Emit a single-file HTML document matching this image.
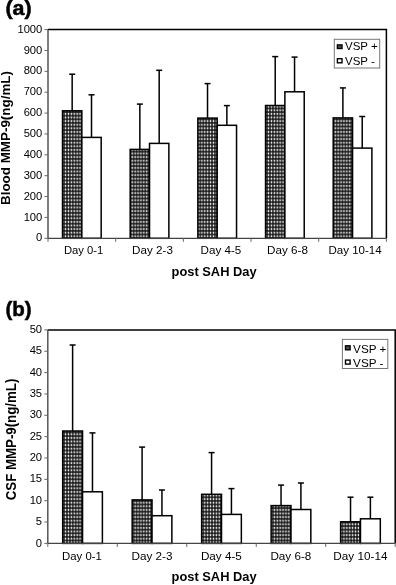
<!DOCTYPE html>
<html><head><meta charset="utf-8"><style>
html,body{margin:0;padding:0;background:#fff;overflow:hidden;}
svg{display:block;will-change:transform;}
text{font-family:"Liberation Sans", sans-serif;fill:#000;}
</style></head><body>
<svg width="396" height="585" viewBox="0 0 396 585">
<defs>
<pattern id="hatch" patternUnits="userSpaceOnUse" x="0.3" y="0.5" width="2.9" height="3.6">
<rect width="2.9" height="3.6" fill="#1c1c1c"/>
<rect x="0.7" y="0.75" width="1.5" height="2.1" rx="0.5" fill="#ececec"/>
</pattern>
</defs>
<rect width="396" height="585" fill="#fff"/>
<line x1="72.17" y1="110.80" x2="72.17" y2="74.20" stroke="#000" stroke-width="1.5"/>
<line x1="69.17" y1="74.20" x2="75.17" y2="74.20" stroke="#000" stroke-width="1.5"/>
<line x1="91.51" y1="137.40" x2="91.51" y2="94.80" stroke="#000" stroke-width="1.5"/>
<line x1="88.51" y1="94.80" x2="94.51" y2="94.80" stroke="#000" stroke-width="1.5"/>
<rect x="62.50" y="110.80" width="19.34" height="127.50" fill="url(#hatch)" stroke="#000" stroke-width="1.5"/>
<rect x="81.84" y="137.40" width="19.34" height="100.90" fill="#fff" stroke="#000" stroke-width="1.5"/>
<line x1="139.85" y1="149.40" x2="139.85" y2="104.10" stroke="#000" stroke-width="1.5"/>
<line x1="136.85" y1="104.10" x2="142.85" y2="104.10" stroke="#000" stroke-width="1.5"/>
<line x1="159.19" y1="143.40" x2="159.19" y2="70.30" stroke="#000" stroke-width="1.5"/>
<line x1="156.19" y1="70.30" x2="162.19" y2="70.30" stroke="#000" stroke-width="1.5"/>
<rect x="130.18" y="149.40" width="19.34" height="88.90" fill="url(#hatch)" stroke="#000" stroke-width="1.5"/>
<rect x="149.52" y="143.40" width="19.34" height="94.90" fill="#fff" stroke="#000" stroke-width="1.5"/>
<line x1="207.53" y1="118.10" x2="207.53" y2="83.60" stroke="#000" stroke-width="1.5"/>
<line x1="204.53" y1="83.60" x2="210.53" y2="83.60" stroke="#000" stroke-width="1.5"/>
<line x1="226.87" y1="125.30" x2="226.87" y2="105.60" stroke="#000" stroke-width="1.5"/>
<line x1="223.87" y1="105.60" x2="229.87" y2="105.60" stroke="#000" stroke-width="1.5"/>
<rect x="197.86" y="118.10" width="19.34" height="120.20" fill="url(#hatch)" stroke="#000" stroke-width="1.5"/>
<rect x="217.20" y="125.30" width="19.34" height="113.00" fill="#fff" stroke="#000" stroke-width="1.5"/>
<line x1="275.21" y1="105.50" x2="275.21" y2="56.60" stroke="#000" stroke-width="1.5"/>
<line x1="272.21" y1="56.60" x2="278.21" y2="56.60" stroke="#000" stroke-width="1.5"/>
<line x1="294.55" y1="91.80" x2="294.55" y2="57.10" stroke="#000" stroke-width="1.5"/>
<line x1="291.55" y1="57.10" x2="297.55" y2="57.10" stroke="#000" stroke-width="1.5"/>
<rect x="265.54" y="105.50" width="19.34" height="132.80" fill="url(#hatch)" stroke="#000" stroke-width="1.5"/>
<rect x="284.88" y="91.80" width="19.34" height="146.50" fill="#fff" stroke="#000" stroke-width="1.5"/>
<line x1="342.89" y1="117.90" x2="342.89" y2="87.90" stroke="#000" stroke-width="1.5"/>
<line x1="339.89" y1="87.90" x2="345.89" y2="87.90" stroke="#000" stroke-width="1.5"/>
<line x1="362.23" y1="148.10" x2="362.23" y2="116.50" stroke="#000" stroke-width="1.5"/>
<line x1="359.23" y1="116.50" x2="365.23" y2="116.50" stroke="#000" stroke-width="1.5"/>
<rect x="333.22" y="117.90" width="19.34" height="120.40" fill="url(#hatch)" stroke="#000" stroke-width="1.5"/>
<rect x="352.56" y="148.10" width="19.34" height="90.20" fill="#fff" stroke="#000" stroke-width="1.5"/>
<polyline points="48.00,29.60 386.40,29.60 386.40,238.30" fill="none" stroke="#000" stroke-width="1.5"/>
<line x1="48.00" y1="29.60" x2="48.00" y2="238.30" stroke="#555" stroke-width="1.5"/>
<line x1="48.00" y1="238.30" x2="386.40" y2="238.30" stroke="#444" stroke-width="1.2"/>
<line x1="44.50" y1="238.30" x2="48.00" y2="238.30" stroke="#666" stroke-width="1"/>
<text x="42.30" y="241.40" text-anchor="end" font-size="11.2">0</text>
<line x1="44.50" y1="217.43" x2="48.00" y2="217.43" stroke="#666" stroke-width="1"/>
<text x="42.30" y="220.53" text-anchor="end" font-size="11.2">100</text>
<line x1="44.50" y1="196.56" x2="48.00" y2="196.56" stroke="#666" stroke-width="1"/>
<text x="42.30" y="199.66" text-anchor="end" font-size="11.2">200</text>
<line x1="44.50" y1="175.69" x2="48.00" y2="175.69" stroke="#666" stroke-width="1"/>
<text x="42.30" y="178.79" text-anchor="end" font-size="11.2">300</text>
<line x1="44.50" y1="154.82" x2="48.00" y2="154.82" stroke="#666" stroke-width="1"/>
<text x="42.30" y="157.92" text-anchor="end" font-size="11.2">400</text>
<line x1="44.50" y1="133.95" x2="48.00" y2="133.95" stroke="#666" stroke-width="1"/>
<text x="42.30" y="137.05" text-anchor="end" font-size="11.2">500</text>
<line x1="44.50" y1="113.08" x2="48.00" y2="113.08" stroke="#666" stroke-width="1"/>
<text x="42.30" y="116.18" text-anchor="end" font-size="11.2">600</text>
<line x1="44.50" y1="92.21" x2="48.00" y2="92.21" stroke="#666" stroke-width="1"/>
<text x="42.30" y="95.31" text-anchor="end" font-size="11.2">700</text>
<line x1="44.50" y1="71.34" x2="48.00" y2="71.34" stroke="#666" stroke-width="1"/>
<text x="42.30" y="74.44" text-anchor="end" font-size="11.2">800</text>
<line x1="44.50" y1="50.47" x2="48.00" y2="50.47" stroke="#666" stroke-width="1"/>
<text x="42.30" y="53.57" text-anchor="end" font-size="11.2">900</text>
<line x1="44.50" y1="29.60" x2="48.00" y2="29.60" stroke="#666" stroke-width="1"/>
<text x="42.30" y="32.70" text-anchor="end" font-size="11.2">1000</text>
<line x1="48.00" y1="238.30" x2="48.00" y2="241.80" stroke="#666" stroke-width="1"/>
<line x1="115.68" y1="238.30" x2="115.68" y2="241.80" stroke="#666" stroke-width="1"/>
<line x1="183.36" y1="238.30" x2="183.36" y2="241.80" stroke="#666" stroke-width="1"/>
<line x1="251.04" y1="238.30" x2="251.04" y2="241.80" stroke="#666" stroke-width="1"/>
<line x1="318.72" y1="238.30" x2="318.72" y2="241.80" stroke="#666" stroke-width="1"/>
<line x1="386.40" y1="238.30" x2="386.40" y2="241.80" stroke="#666" stroke-width="1"/>
<text x="63.90" y="254.20" font-size="11" textLength="39.40" lengthAdjust="spacingAndGlyphs">Day 0-1</text>
<text x="132.10" y="254.20" font-size="11" textLength="40.80" lengthAdjust="spacingAndGlyphs">Day 2-3</text>
<text x="200.50" y="254.20" font-size="11" textLength="40.80" lengthAdjust="spacingAndGlyphs">Day 4-5</text>
<text x="267.10" y="254.20" font-size="11" textLength="40.80" lengthAdjust="spacingAndGlyphs">Day 6-8</text>
<text x="328.50" y="254.20" font-size="11" textLength="53.20" lengthAdjust="spacingAndGlyphs">Day 10-14</text>
<text x="171.60" y="275.80" font-size="13" font-weight="bold" textLength="85" lengthAdjust="spacingAndGlyphs">post SAH Day</text>
<text transform="translate(10.00,205.00) rotate(-90)" x="0" y="0" font-size="12.3" font-weight="bold" textLength="134" lengthAdjust="spacingAndGlyphs">Blood MMP-9(ng/mL)</text>
<text x="5.40" y="14.90" font-size="20" font-weight="bold" stroke="#000" stroke-width="0.5" textLength="26.2" lengthAdjust="spacingAndGlyphs">(a)</text>
<rect x="334.30" y="39.30" width="45.40" height="28.70" fill="#fff" stroke="#777" stroke-width="1"/>
<rect x="337.40" y="44.90" width="4.6" height="3.6" fill="#505050" stroke="#000" stroke-width="1.4"/>
<rect x="337.40" y="58.70" width="4.6" height="4.1" fill="#fff" stroke="#000" stroke-width="1.4"/>
<text x="345.00" y="50.40" font-size="11.5">VSP +</text>
<text x="345.00" y="64.70" font-size="11.5">VSP -</text>
<line x1="72.61" y1="431.00" x2="72.61" y2="345.00" stroke="#000" stroke-width="1.5"/>
<line x1="69.61" y1="345.00" x2="75.61" y2="345.00" stroke="#000" stroke-width="1.5"/>
<line x1="92.47" y1="491.80" x2="92.47" y2="432.90" stroke="#000" stroke-width="1.5"/>
<line x1="89.47" y1="432.90" x2="95.47" y2="432.90" stroke="#000" stroke-width="1.5"/>
<rect x="62.69" y="431.00" width="19.85" height="112.40" fill="url(#hatch)" stroke="#000" stroke-width="1.5"/>
<rect x="82.54" y="491.80" width="19.85" height="51.60" fill="#fff" stroke="#000" stroke-width="1.5"/>
<line x1="142.09" y1="499.90" x2="142.09" y2="447.10" stroke="#000" stroke-width="1.5"/>
<line x1="139.09" y1="447.10" x2="145.09" y2="447.10" stroke="#000" stroke-width="1.5"/>
<line x1="161.95" y1="515.70" x2="161.95" y2="490.00" stroke="#000" stroke-width="1.5"/>
<line x1="158.95" y1="490.00" x2="164.95" y2="490.00" stroke="#000" stroke-width="1.5"/>
<rect x="132.17" y="499.90" width="19.85" height="43.50" fill="url(#hatch)" stroke="#000" stroke-width="1.5"/>
<rect x="152.02" y="515.70" width="19.85" height="27.70" fill="#fff" stroke="#000" stroke-width="1.5"/>
<line x1="211.57" y1="494.30" x2="211.57" y2="452.60" stroke="#000" stroke-width="1.5"/>
<line x1="208.57" y1="452.60" x2="214.57" y2="452.60" stroke="#000" stroke-width="1.5"/>
<line x1="231.43" y1="514.40" x2="231.43" y2="488.60" stroke="#000" stroke-width="1.5"/>
<line x1="228.43" y1="488.60" x2="234.43" y2="488.60" stroke="#000" stroke-width="1.5"/>
<rect x="201.65" y="494.30" width="19.85" height="49.10" fill="url(#hatch)" stroke="#000" stroke-width="1.5"/>
<rect x="221.50" y="514.40" width="19.85" height="29.00" fill="#fff" stroke="#000" stroke-width="1.5"/>
<line x1="281.05" y1="505.60" x2="281.05" y2="485.10" stroke="#000" stroke-width="1.5"/>
<line x1="278.05" y1="485.10" x2="284.05" y2="485.10" stroke="#000" stroke-width="1.5"/>
<line x1="300.91" y1="509.50" x2="300.91" y2="483.00" stroke="#000" stroke-width="1.5"/>
<line x1="297.91" y1="483.00" x2="303.91" y2="483.00" stroke="#000" stroke-width="1.5"/>
<rect x="271.13" y="505.60" width="19.85" height="37.80" fill="url(#hatch)" stroke="#000" stroke-width="1.5"/>
<rect x="290.98" y="509.50" width="19.85" height="33.90" fill="#fff" stroke="#000" stroke-width="1.5"/>
<line x1="350.53" y1="521.80" x2="350.53" y2="497.20" stroke="#000" stroke-width="1.5"/>
<line x1="347.53" y1="497.20" x2="353.53" y2="497.20" stroke="#000" stroke-width="1.5"/>
<line x1="370.39" y1="518.80" x2="370.39" y2="497.20" stroke="#000" stroke-width="1.5"/>
<line x1="367.39" y1="497.20" x2="373.39" y2="497.20" stroke="#000" stroke-width="1.5"/>
<rect x="340.61" y="521.80" width="19.85" height="21.60" fill="url(#hatch)" stroke="#000" stroke-width="1.5"/>
<rect x="360.46" y="518.80" width="19.85" height="24.60" fill="#fff" stroke="#000" stroke-width="1.5"/>
<polyline points="47.80,329.90 395.20,329.90 395.20,543.40" fill="none" stroke="#000" stroke-width="1.5"/>
<line x1="47.80" y1="329.90" x2="47.80" y2="543.40" stroke="#555" stroke-width="1.5"/>
<line x1="47.80" y1="543.40" x2="395.20" y2="543.40" stroke="#444" stroke-width="1.2"/>
<line x1="44.30" y1="543.40" x2="47.80" y2="543.40" stroke="#666" stroke-width="1"/>
<text x="42.10" y="546.50" text-anchor="end" font-size="11.2">0</text>
<line x1="44.30" y1="522.05" x2="47.80" y2="522.05" stroke="#666" stroke-width="1"/>
<text x="42.10" y="525.15" text-anchor="end" font-size="11.2">5</text>
<line x1="44.30" y1="500.70" x2="47.80" y2="500.70" stroke="#666" stroke-width="1"/>
<text x="42.10" y="503.80" text-anchor="end" font-size="11.2">10</text>
<line x1="44.30" y1="479.35" x2="47.80" y2="479.35" stroke="#666" stroke-width="1"/>
<text x="42.10" y="482.45" text-anchor="end" font-size="11.2">15</text>
<line x1="44.30" y1="458.00" x2="47.80" y2="458.00" stroke="#666" stroke-width="1"/>
<text x="42.10" y="461.10" text-anchor="end" font-size="11.2">20</text>
<line x1="44.30" y1="436.65" x2="47.80" y2="436.65" stroke="#666" stroke-width="1"/>
<text x="42.10" y="439.75" text-anchor="end" font-size="11.2">25</text>
<line x1="44.30" y1="415.30" x2="47.80" y2="415.30" stroke="#666" stroke-width="1"/>
<text x="42.10" y="418.40" text-anchor="end" font-size="11.2">30</text>
<line x1="44.30" y1="393.95" x2="47.80" y2="393.95" stroke="#666" stroke-width="1"/>
<text x="42.10" y="397.05" text-anchor="end" font-size="11.2">35</text>
<line x1="44.30" y1="372.60" x2="47.80" y2="372.60" stroke="#666" stroke-width="1"/>
<text x="42.10" y="375.70" text-anchor="end" font-size="11.2">40</text>
<line x1="44.30" y1="351.25" x2="47.80" y2="351.25" stroke="#666" stroke-width="1"/>
<text x="42.10" y="354.35" text-anchor="end" font-size="11.2">45</text>
<line x1="44.30" y1="329.90" x2="47.80" y2="329.90" stroke="#666" stroke-width="1"/>
<text x="42.10" y="333.00" text-anchor="end" font-size="11.2">50</text>
<line x1="47.80" y1="543.40" x2="47.80" y2="546.90" stroke="#666" stroke-width="1"/>
<line x1="117.28" y1="543.40" x2="117.28" y2="546.90" stroke="#666" stroke-width="1"/>
<line x1="186.76" y1="543.40" x2="186.76" y2="546.90" stroke="#666" stroke-width="1"/>
<line x1="256.24" y1="543.40" x2="256.24" y2="546.90" stroke="#666" stroke-width="1"/>
<line x1="325.72" y1="543.40" x2="325.72" y2="546.90" stroke="#666" stroke-width="1"/>
<line x1="395.20" y1="543.40" x2="395.20" y2="546.90" stroke="#666" stroke-width="1"/>
<text x="62.10" y="559.60" font-size="11" textLength="39.80" lengthAdjust="spacingAndGlyphs">Day 0-1</text>
<text x="131.50" y="559.60" font-size="11" textLength="41.00" lengthAdjust="spacingAndGlyphs">Day 2-3</text>
<text x="200.90" y="559.60" font-size="11" textLength="41.00" lengthAdjust="spacingAndGlyphs">Day 4-5</text>
<text x="270.40" y="559.60" font-size="11" textLength="40.90" lengthAdjust="spacingAndGlyphs">Day 6-8</text>
<text x="333.30" y="559.60" font-size="11" textLength="54.20" lengthAdjust="spacingAndGlyphs">Day 10-14</text>
<text x="171.60" y="581.40" font-size="13" font-weight="bold" textLength="85" lengthAdjust="spacingAndGlyphs">post SAH Day</text>
<text transform="translate(15.90,500.20) rotate(-90)" x="0" y="0" font-size="14" font-weight="bold" textLength="121.5" lengthAdjust="spacingAndGlyphs">CSF MMP-9(ng/mL)</text>
<text x="5.40" y="315.70" font-size="20" font-weight="bold" stroke="#000" stroke-width="0.5" textLength="26.2" lengthAdjust="spacingAndGlyphs">(b)</text>
<rect x="342.40" y="339.40" width="45.40" height="29.10" fill="#fff" stroke="#777" stroke-width="1"/>
<rect x="345.50" y="345.80" width="4.6" height="4.0" fill="#505050" stroke="#000" stroke-width="1.4"/>
<rect x="345.50" y="360.10" width="4.6" height="4.0" fill="#fff" stroke="#000" stroke-width="1.4"/>
<text x="353.10" y="353.00" font-size="11.7">VSP +</text>
<text x="353.10" y="366.90" font-size="11.7">VSP -</text>
</svg>
</body></html>
